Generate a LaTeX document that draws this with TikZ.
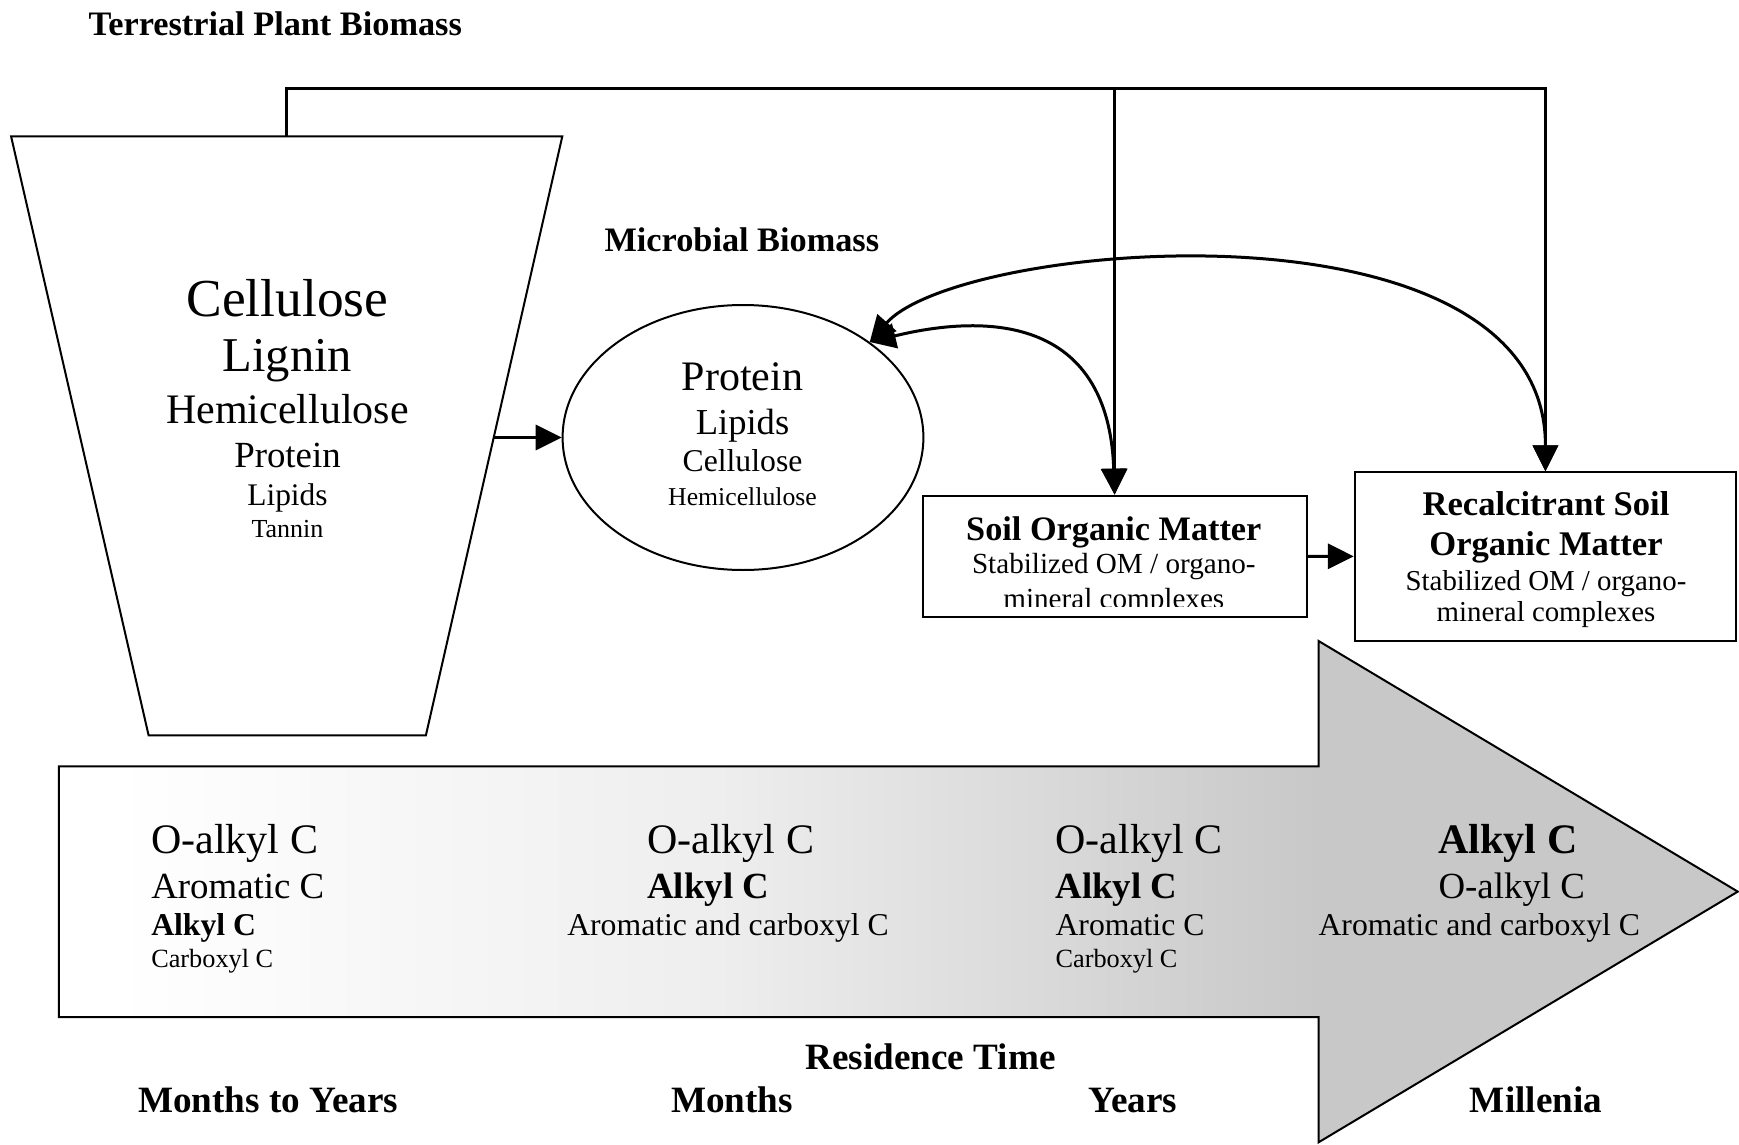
\documentclass[tikz,border=0pt]{standalone}
\usepackage{fontspec}
\setmainfont{Liberation Serif}
\usetikzlibrary{arrows.meta,shapes.geometric}

\newlength{\du}
\setlength{\du}{0.35pt}
\newcommand{\fsz}[1]{\fontsize{#1}{#1}\selectfont}

\definecolor{arrowgray}{RGB}{200,200,200}
\definecolor{arrowmid}{RGB}{238,238,238}

\tikzset{
  flow/.style={line width=1.05pt,-{Triangle[length=9.1pt,width=8.8pt]}},
  twoway/.style={line width=1.05pt,{Triangle[length=9.1pt,width=8.8pt]}-{Triangle[length=9.1pt,width=8.8pt]}},
  outline/.style={draw,line width=0.7pt,inner sep=0pt},
  txt/.style={anchor=base,inner sep=0pt},
  ltxt/.style={anchor=base west,inner sep=0pt},
}

\begin{document}
\begin{tikzpicture}
\pgftransformyscale{-1.000000}
\useasboundingbox (0\du,0\du) rectangle (1739\du,1145\du);

% residence time arrow
\fill[white] (58.8\du,766.3\du) rectangle (120\du,1017\du);
\shade[left color=white,right color=arrowgray,middle color=arrowmid] (115\du,766.3\du) rectangle (1320\du,1017\du);
\fill[arrowgray] (1318.6\du,641\du) -- (1737.8\du,891.6\du) -- (1318.6\du,1142.3\du) -- cycle;
\draw[line width=0.7pt] (58.8\du,766.3\du) -- (1318.6\du,766.3\du) -- (1318.6\du,641\du) -- (1737.8\du,891.6\du)
  -- (1318.6\du,1142.3\du) -- (1318.6\du,1017\du) -- (58.8\du,1017\du) -- cycle;

% pools
\draw[line width=0.7pt] (11.1\du,136.4\du) -- (562.3\du,136.4\du) -- (425.9\du,735.3\du) -- (148.6\du,735.3\du) -- cycle;
\coordinate (plant top) at (286.7\du,136.4\du);
\coordinate (plant east) at (493.8\du,437.5\du);
\node[outline,ellipse,minimum width=360.8\du,minimum height=265\du] (microbes) at (743\du,437.5\du) {};
\node[outline,rectangle,minimum width=383.8\du,minimum height=121\du] (som) at (1114.6\du,556.2\du) {};
\node[outline,rectangle,minimum width=381.2\du,minimum height=168.3\du] (rsom) at (1545.4\du,556.5\du) {};

% connectors
\coordinate (ridge) at (1114.6\du,88.7\du);
\draw[flow] (plant top) |- (ridge) -| (rsom.north);
\draw[flow] (ridge) -- (som.north);
\draw[flow] (plant east) -- (microbes);
\draw[flow] (som) -- (rsom);
\draw[twoway] (microbes.37) .. controls (960\du,320\du) and (1108\du,300\du) .. (som.north);
\draw[twoway] (microbes.37) .. controls (960\du,240\du) and (1546\du,190\du) .. (rsom.north);

% titles
\node[ltxt,font={\fsz{12}\bfseries}] (tpb) at (88\du,35\du) {Terrestrial Plant Biomass};
\node[ltxt,font={\fsz{12}\bfseries}] (mbm) at (604\du,251.7\du) {Microbial Biomass};

% plant biomass
\node[txt,font=\fsz{18.7}] (plcell) at (287.5\du,316.7\du) {Cellulose};
\node[txt,font=\fsz{17}] (pllign) at (287.5\du,371.7\du) {Lignin};
\node[txt,font=\fsz{14.7}] (plhemi) at (287.5\du,423.3\du) {Hemicellulose};
\node[txt,font=\fsz{12.9}] (plprot) at (287.5\du,467.3\du) {Protein};
\node[txt,font=\fsz{11}] (pllipi) at (287.5\du,505\du) {Lipids};
\node[txt,font=\fsz{9.1}] (pltann) at (287.5\du,537.3\du) {Tannin};

% microbial biomass
\node[txt,font=\fsz{14.7}] (mbprot) at (742.5\du,390\du) {Protein};
\node[txt,font=\fsz{12.8}] (mblipi) at (742.5\du,434\du) {Lipids};
\node[txt,font=\fsz{11.1}] (mbcell) at (742.5\du,471.7\du) {Cellulose};
\node[txt,font=\fsz{9}] (mbhemi) at (742.5\du,505\du) {Hemicellulose};

% soil organic matter
\node[txt,font={\fsz{12}\bfseries}] (somhead) at (1113.8\du,540\du) {Soil Organic Matter};
\node[txt,font=\fsz{10.2}] (somtxt) at (1113.8\du,573.3\du) {Stabilized OM / organo-};
\begin{scope}
\clip (923\du,497\du) rectangle (1306\du,606.7\du);
\node[txt,font=\fsz{10.2}] (somtxtb) at (1113.8\du,608\du) {mineral complexes};
\end{scope}

\node[txt,font={\fsz{12.1}\bfseries}] (rsomhead) at (1546\du,515\du) {Recalcitrant Soil};
\node[txt,font={\fsz{12.1}\bfseries}] (rsomheadb) at (1546\du,555\du) {Organic Matter};
\node[txt,font=\fsz{10.1}] (rsomtxt) at (1546\du,590\du) {Stabilized OM / organo-};
\node[txt,font=\fsz{10.1}] (rsomtxtb) at (1546\du,621.7\du) {mineral complexes};

% carbon forms along the arrow
\node[ltxt,font=\fsz{14.7}] (ca) at (150.7\du,853\du) {O-alkyl C};
\node[ltxt,font=\fsz{12.9}] (cb) at (150.7\du,898\du) {Aromatic C};
\node[ltxt,font={\fsz{11.1}\bfseries}] (cc) at (150.7\du,935\du) {Alkyl C};
\node[ltxt,font=\fsz{9.2}] (cd) at (150.7\du,967\du) {Carboxyl C};

\node[ltxt,font=\fsz{14.7}] (ma) at (646.7\du,853\du) {O-alkyl C};
\node[ltxt,font={\fsz{12.9}\bfseries}] (mb) at (646.7\du,898\du) {Alkyl C};
\node[ltxt,font=\fsz{11.1}] (mc) at (566.7\du,935\du) {Aromatic and carboxyl C};

\node[ltxt,font=\fsz{14.7}] (sa) at (1055\du,853\du) {O-alkyl C};
\node[ltxt,font={\fsz{12.9}\bfseries}] (sb) at (1055\du,898\du) {Alkyl C};
\node[ltxt,font=\fsz{11.1}] (sc) at (1055\du,935\du) {Aromatic C};
\node[ltxt,font=\fsz{9.2}] (sd) at (1055\du,967\du) {Carboxyl C};

\node[ltxt,font={\fsz{14.7}\bfseries}] (ra) at (1438\du,853\du) {Alkyl C};
\node[ltxt,font=\fsz{12.9}] (rb) at (1438\du,898\du) {O-alkyl C};
\node[ltxt,font=\fsz{11.1}] (rc) at (1318\du,935\du) {Aromatic and carboxyl C};

% residence times
\node[txt,font={\fsz{13}\bfseries}] (restime) at (930.5\du,1069\du) {Residence Time};
\node[txt,font={\fsz{13}\bfseries}] (tplant) at (268\du,1112.7\du) {Months to Years};
\node[txt,font={\fsz{13}\bfseries}] (tmicro) at (732\du,1112.7\du) {Months};
\node[txt,font={\fsz{13}\bfseries}] (tsom) at (1133\du,1112.7\du) {Years};
\node[txt,font={\fsz{13}\bfseries}] (trsom) at (1536\du,1112.7\du) {Millenia};
\end{tikzpicture}
\end{document}
